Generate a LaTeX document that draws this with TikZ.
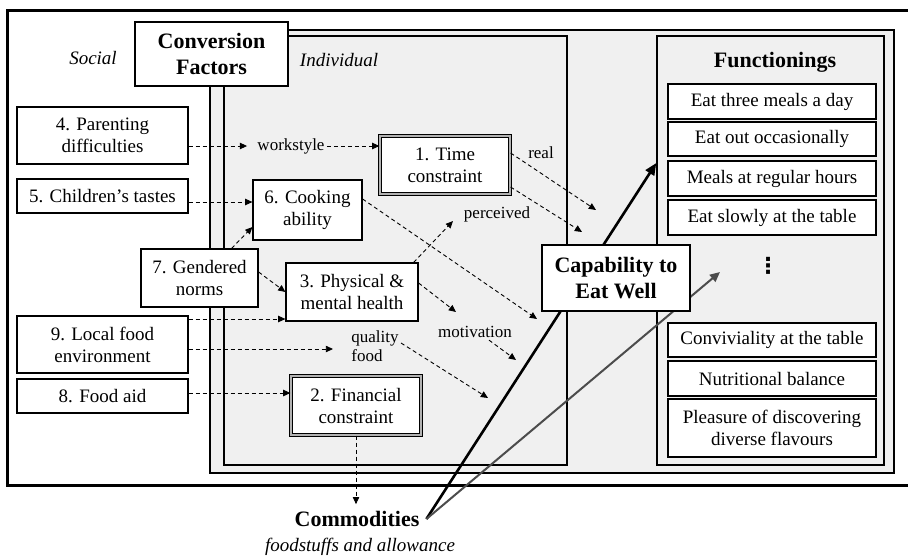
\documentclass[tikz,border=0pt]{standalone}
\usepackage{fontspec}
\setmainfont{Liberation Serif}
\newfontfamily\symfont{DejaVu Sans}
\usetikzlibrary{arrows.meta,positioning,calc}

\begin{document}
\begin{tikzpicture}[x=0.5pt,y=-0.5pt,font=\fontsize{9.5}{11}\selectfont,
  box/.style={draw,fill=white,line width=0.6pt,align=center,inner sep=1pt,font=\fontsize{9.5}{11}\selectfont},
  dbox/.style={box,double=black!30,double distance=0.6pt,line width=0.6pt},
  frame/.style={draw,line width=0.7pt,fill=black!6,inner sep=0pt},
  lbl/.style={font=\fontsize{8.5}{9.5}\selectfont,inner sep=1pt},
  itl/.style={font=\fontsize{9.5}{11}\selectfont\itshape},
  hd/.style={font=\fontsize{11}{13.4}\selectfont\bfseries,align=center},
  dashar/.style={-{Triangle[length=3.6pt,width=3.2pt]},dash pattern=on 2pt off 1.5pt,line width=0.45pt}]
  \useasboundingbox (0,0) rectangle (908,557);
  % frames
  \node[draw,line width=1.5pt,minimum width=451.5pt,minimum height=237.5pt,inner sep=0pt] (outer) at (458.5,247.5) {};
  \node[frame,line width=1.4pt,minimum width=342pt,minimum height=221.5pt] (grey) at (552,251.5) {};
  \node[frame,minimum width=171.5pt,minimum height=214.5pt] (indiv) at (395.5,250.5) {};
  \node[frame,minimum width=113.5pt,minimum height=214.5pt] (funs) at (770.5,250.5) {};
  \node[box,hd,minimum width=76.5pt,minimum height=32pt] (conv) at (211.5,54) {Conversion\\Factors};
  \node[itl] (social) at (93,58) {Social};
  \node[itl] (indl) at (339,60) {Individual};

  % functionings
  \node[hd] (funt) at (775,62) {Functionings};
  \foreach \n/\y/\h/\t in {1/101.5/17.5/Eat three meals a day,2/139/17/Eat out occasionally,
      3/178.5/17.5/Meals at regular hours,4/217.5/17.5/Eat slowly at the table,
      5/340/17/Conviviality at the table,6/378.5/17.5/Nutritional balance,
      7/428/29/{Pleasure of discovering\\diverse flavours}} {
    \node[box,minimum width=104pt,minimum height=\h pt] (f\n) at (772,\y) {\t};
  }
  \node[font=\fontsize{11}{12}\selectfont\symfont\bfseries] (dots) at (768,266) {⋮};

  % commodities and capability
  \node[hd] (comm) at (357,519) {Commodities};
  \node[itl] (stuff) at (360,547) {foodstuffs and allowance};
  \coordinate (e8) at (720,272);
  \draw[line width=1.3pt,-{Triangle[length=6pt,width=5pt]}] (comm.east) -- (funs.west |- 0,163);
  \draw[line width=1pt,black!70,-{Triangle[length=5pt,width=4.5pt]}] (comm.east) -- (e8);
  \node[box,hd,line width=1.4pt,minimum width=74pt,minimum height=33pt] (cap) at (616,278) {Capability to\\Eat Well};

  % social factors
  \node[box,minimum width=85.5pt,minimum height=28.5pt] (n4) at (102.5,135.5) {4. Parenting\\difficulties};
  \node[box,minimum width=85.5pt,minimum height=17pt] (n5) at (102.5,196) {5. Children’s tastes};
  \node[box,minimum width=58.5pt,minimum height=29pt] (n7) at (199.5,278) {7. Gendered\\norms};
  \node[box,minimum width=85.5pt,minimum height=28.5pt] (n9) at (102.5,344.5) {9. Local food\\environment};
  \node[box,minimum width=85.5pt,minimum height=17pt] (n8) at (102.5,396) {8. Food aid};

  % individual factors
  \node[dbox,minimum width=65pt,minimum height=29pt] (n1) at (445,165) {1. Time\\constraint};
  \node[box,minimum width=54.5pt,minimum height=30pt] (n6) at (307.5,210) {6. Cooking\\ability};
  \node[box,minimum width=66pt,minimum height=29pt] (n3) at (352,292) {3. Physical \&\\mental health};
  \node[dbox,minimum width=65pt,minimum height=29.5pt] (n2) at (356,405.5) {2. Financial\\constraint};

  \node[lbl] (wk) at (291,146) {workstyle};
  \node[lbl] (real) at (541,153) {real};
  \node[lbl] (pc) at (497,214) {perceived};
  \node[lbl] (mv) at (475,332) {motivation};
  \node[lbl,align=left,anchor=west] (qf) at (349,346) {quality\\food};

  \coordinate (e1) at (596,210);
  \coordinate (e2) at (582,232);
  \coordinate (e3) at (453,221);
  \coordinate (e4) at (456,312);
  \coordinate (e5) at (516,360);
  \coordinate (e6) at (488,398);
  \coordinate (e7) at (537,319);

  % dashed links
  \draw[dashar,shorten >=4pt] (n4.east |- wk) -- (wk);
  \draw[dashar] (wk) -- (wk -| n1.west);
  \draw[dashar] (n5.east |- 0,202) -- (n6.west |- 0,202);
  \draw[dashar] ([xshift=-13.5pt]n7.north east) -- ([yshift=-8.5pt]n6.west);
  \draw[dashar] ([yshift=3pt]n7.east) -- (n3.west);
  \draw[dashar] (n9.east |- 0,319) -- (n3.west |- 0,319);
  \draw[dashar,shorten >=8pt] (n9.east |- 0,349) -- (qf.west |- 0,349);
  \draw[dashar] (n8.east |- 0,393) -- (n2.west |- 0,393);
  \draw[dashar] (n2.south) -- (n2.south |- comm.north);
  \draw[dashar] ([yshift=6pt]n1.east) -- (e1);
  \draw[dashar] ([yshift=-11pt]n1.east) -- (e2);
  \draw[dashar] ([xshift=-2.5pt]n3.north east) -- (e3);
  \draw[dashar] ([yshift=5.5pt]n6.east) -- (e7);
  \draw[dashar] ([yshift=4.5pt]n3.east) -- (e4);
  \draw[dashar] ([xshift=7pt]mv.south) -- (e5);
  \draw[dashar] ([yshift=1.5pt]qf.east) -- (e6);
\end{tikzpicture}
\end{document}
